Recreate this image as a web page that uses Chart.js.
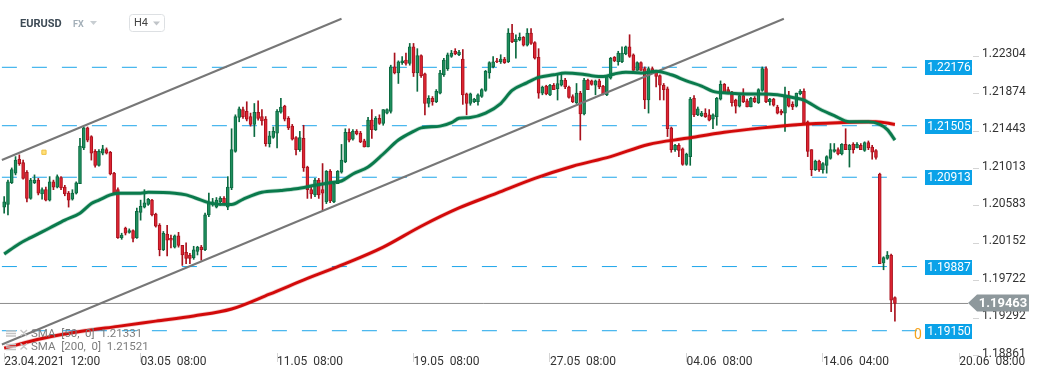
<!DOCTYPE html>
<html>
<head>
<meta charset="utf-8">
<script src="https://cdn.jsdelivr.net/npm/chart.js@4.4.0/dist/chart.umd.min.js"></script>
<style>
html,body{margin:0;padding:0;background:#fff;}
#wrap{width:1041px;height:380px;position:relative;}
</style>
</head>
<body>
<div id="wrap"><canvas id="chart"></canvas></div>
<script>
// EURUSD H4 candles, index 0 = 23.04.2021 12:00
var opens = [
1.2057,1.2060,1.2085,1.2096,1.2112,1.2108,1.2097,1.2067,1.2085,1.2088,
1.2072,1.2077,1.2065,1.2086,1.2080,1.2091,1.2080,1.2073,1.2066,1.2073,
1.2084,1.2125,1.2148,1.2138,1.2121,1.2105,1.2119,1.2123,1.2120,1.2096,
1.2077,1.2022,1.2033,1.2028,1.2030,1.2022,1.2051,1.2057,1.2060,1.2065,
1.2049,1.2036,1.2008,1.2026,1.2021,1.2011,1.2024,1.2013,1.2005,1.2002,
1.1999,1.2006,1.2011,1.2008,1.2048,1.2060,1.2057,1.2063,1.2067,1.2057,
1.2079,1.2121,1.2160,1.2169,1.2167,1.2161,1.2152,1.2166,1.2161,1.2158,
1.2130,1.2137,1.2142,1.2166,1.2173,1.2159,1.2150,1.2137,1.2123,1.2136,
1.2103,1.2077,1.2071,1.2088,1.2077,1.2063,1.2098,1.2063,1.2084,1.2097,
1.2109,1.2143,1.2135,1.2144,1.2142,1.2133,1.2126,1.2157,1.2146,1.2159,
1.2153,1.2165,1.2167,1.2218,1.2211,1.2223,1.2226,1.2222,1.2241,1.2211,
1.2231,1.2210,1.2176,1.2182,1.2178,1.2188,1.2209,1.2216,1.2230,1.2236,
1.2232,1.2227,1.2187,1.2176,1.2178,1.2178,1.2184,1.2191,1.2211,1.2218,
1.2225,1.2224,1.2227,1.2224,1.2257,1.2247,1.2249,1.2252,1.2243,1.2257,
1.2246,1.2229,1.2188,1.2196,1.2186,1.2197,1.2193,1.2197,1.2203,1.2195,
1.2184,1.2177,1.2188,1.2164,1.2203,1.2202,1.2197,1.2202,1.2196,1.2186,
1.2205,1.2229,1.2224,1.2224,1.2233,1.2241,1.2232,1.2214,1.2223,1.2216,
1.2180,1.2216,1.2213,1.2208,1.2197,1.2193,1.2148,1.2123,1.2128,1.2124,
1.2106,1.2115,1.2182,1.2163,1.2162,1.2165,1.2163,1.2158,1.2161,1.2181,
1.2198,1.2192,1.2188,1.2180,1.2173,1.2185,1.2179,1.2172,1.2182,1.2177,
1.2191,1.2216,1.2178,1.2181,1.2172,1.2167,1.2165,1.2185,1.2175,1.2173,
1.2187,1.2190,1.2155,1.2123,1.2100,1.2110,1.2100,1.2105,1.2113,1.2121,
1.2123,1.2118,1.2129,1.2123,1.2129,1.2125,1.2128,1.2122,1.2131,1.2126,
1.2122,1.2095,1.1993,1.1998,1.2002,1.1953];
var highs = [
1.2069,1.2088,1.2102,1.2115,1.2117,1.2111,1.2099,1.2090,1.2094,1.2090,
1.2079,1.2080,1.2092,1.2088,1.2094,1.2092,1.2082,1.2075,1.2077,1.2086,
1.2136,1.2149,1.2149,1.2139,1.2123,1.2123,1.2128,1.2125,1.2121,1.2097,
1.2079,1.2027,1.2034,1.2032,1.2031,1.2056,1.2065,1.2077,1.2067,1.2066,
1.2050,1.2038,1.2029,1.2036,1.2025,1.2025,1.2028,1.2013,1.2016,1.2004,
1.2012,1.2012,1.2013,1.2050,1.2073,1.2067,1.2068,1.2069,1.2069,1.2092,
1.2147,1.2163,1.2172,1.2172,1.2178,1.2165,1.2176,1.2179,1.2169,1.2161,
1.2144,1.2149,1.2169,1.2182,1.2174,1.2161,1.2152,1.2138,1.2144,1.2151,
1.2104,1.2080,1.2090,1.2090,1.2107,1.2099,1.2100,1.2086,1.2099,1.2129,
1.2147,1.2147,1.2146,1.2146,1.2144,1.2135,1.2160,1.2169,1.2161,1.2163,
1.2169,1.2170,1.2220,1.2234,1.2225,1.2230,1.2234,1.2245,1.2245,1.2239,
1.2232,1.2211,1.2185,1.2184,1.2192,1.2214,1.2228,1.2234,1.2237,1.2239,
1.2237,1.2238,1.2188,1.2188,1.2182,1.2187,1.2193,1.2214,1.2224,1.2230,
1.2228,1.2232,1.2229,1.2262,1.2267,1.2255,1.2257,1.2253,1.2262,1.2262,
1.2247,1.2239,1.2196,1.2197,1.2198,1.2199,1.2210,1.2211,1.2205,1.2196,
1.2186,1.2199,1.2190,1.2205,1.2204,1.2203,1.2203,1.2204,1.2197,1.2208,
1.2229,1.2230,1.2236,1.2241,1.2242,1.2255,1.2233,1.2224,1.2224,1.2218,
1.2218,1.2218,1.2214,1.2209,1.2199,1.2195,1.2149,1.2129,1.2130,1.2125,
1.2119,1.2183,1.2185,1.2172,1.2167,1.2170,1.2169,1.2164,1.2183,1.2202,
1.2199,1.2195,1.2190,1.2181,1.2186,1.2193,1.2181,1.2183,1.2184,1.2193,
1.2218,1.2218,1.2182,1.2182,1.2174,1.2169,1.2195,1.2190,1.2178,1.2188,
1.2192,1.2193,1.2156,1.2123,1.2111,1.2111,1.2108,1.2116,1.2130,1.2130,
1.2125,1.2130,1.2147,1.2129,1.2131,1.2131,1.2130,1.2132,1.2133,1.2128,
1.2123,1.2096,1.2000,1.2006,1.2003,1.1954];
var lows = [
1.2050,1.2048,1.2084,1.2094,1.2105,1.2089,1.2063,1.2066,1.2084,1.2071,
1.2066,1.2064,1.2064,1.2077,1.2079,1.2077,1.2070,1.2057,1.2065,1.2072,
1.2084,1.2123,1.2132,1.2111,1.2103,1.2104,1.2117,1.2118,1.2094,1.2073,
1.2021,1.2020,1.2025,1.2027,1.2017,1.2021,1.2042,1.2056,1.2059,1.2047,
1.2034,1.2001,1.2007,1.2001,1.2010,1.2010,1.2011,1.1990,1.1992,1.1992,
1.1997,1.2002,1.1996,1.2007,1.2046,1.2058,1.2056,1.2059,1.2060,1.2054,
1.2077,1.2120,1.2155,1.2159,1.2156,1.2150,1.2138,1.2157,1.2151,1.2127,
1.2126,1.2136,1.2125,1.2165,1.2156,1.2146,1.2134,1.2117,1.2121,1.2098,
1.2067,1.2067,1.2069,1.2067,1.2054,1.2061,1.2062,1.2062,1.2084,1.2096,
1.2108,1.2132,1.2134,1.2140,1.2131,1.2126,1.2126,1.2136,1.2145,1.2152,
1.2151,1.2164,1.2165,1.2210,1.2199,1.2221,1.2220,1.2220,1.2207,1.2190,
1.2206,1.2163,1.2172,1.2174,1.2177,1.2187,1.2207,1.2214,1.2229,1.2232,
1.2231,1.2175,1.2163,1.2174,1.2177,1.2174,1.2183,1.2190,1.2205,1.2217,
1.2223,1.2222,1.2222,1.2223,1.2246,1.2228,1.2248,1.2242,1.2242,1.2244,
1.2227,1.2182,1.2186,1.2186,1.2185,1.2192,1.2180,1.2196,1.2193,1.2182,
1.2177,1.2176,1.2134,1.2163,1.2192,1.2197,1.2186,1.2193,1.2186,1.2185,
1.2204,1.2224,1.2220,1.2223,1.2232,1.2229,1.2214,1.2214,1.2214,1.2170,
1.2165,1.2211,1.2195,1.2180,1.2180,1.2138,1.2120,1.2121,1.2115,1.2105,
1.2105,1.2105,1.2161,1.2162,1.2161,1.2160,1.2156,1.2147,1.2151,1.2180,
1.2188,1.2187,1.2173,1.2165,1.2172,1.2177,1.2172,1.2172,1.2177,1.2176,
1.2190,1.2177,1.2174,1.2173,1.2164,1.2163,1.2144,1.2172,1.2169,1.2172,
1.2186,1.2152,1.2115,1.2093,1.2099,1.2098,1.2096,1.2096,1.2112,1.2120,
1.2117,1.2117,1.2123,1.2103,1.2119,1.2125,1.2123,1.2121,1.2123,1.2112,
1.2112,1.1992,1.1985,1.1997,1.1937,1.1926];
var closes = [
1.2063,1.2086,1.2100,1.2111,1.2107,1.2090,1.2067,1.2088,1.2088,1.2073,
1.2077,1.2065,1.2086,1.2080,1.2092,1.2079,1.2072,1.2065,1.2073,1.2085,
1.2127,1.2148,1.2134,1.2119,1.2105,1.2121,1.2124,1.2119,1.2095,1.2073,
1.2022,1.2025,1.2027,1.2030,1.2021,1.2052,1.2058,1.2062,1.2066,1.2048,
1.2035,1.2008,1.2027,1.2019,1.2019,1.2024,1.2013,1.2002,1.1998,1.1998,
1.2008,1.2011,1.2008,1.2048,1.2063,1.2063,1.2065,1.2067,1.2061,1.2080,
1.2123,1.2161,1.2170,1.2161,1.2158,1.2152,1.2166,1.2159,1.2156,1.2130,
1.2139,1.2144,1.2167,1.2172,1.2158,1.2148,1.2135,1.2123,1.2137,1.2102,
1.2077,1.2072,1.2088,1.2071,1.2073,1.2098,1.2064,1.2084,1.2098,1.2111,
1.2143,1.2134,1.2144,1.2141,1.2132,1.2126,1.2157,1.2146,1.2159,1.2153,
1.2169,1.2169,1.2218,1.2211,1.2224,1.2225,1.2222,1.2241,1.2211,1.2231,
1.2208,1.2176,1.2182,1.2178,1.2190,1.2211,1.2226,1.2232,1.2234,1.2233,
1.2235,1.2186,1.2176,1.2187,1.2181,1.2186,1.2192,1.2213,1.2223,1.2224,
1.2224,1.2227,1.2223,1.2257,1.2247,1.2250,1.2252,1.2243,1.2257,1.2245,
1.2228,1.2188,1.2195,1.2187,1.2197,1.2192,1.2199,1.2203,1.2195,1.2183,
1.2178,1.2188,1.2164,1.2203,1.2192,1.2198,1.2202,1.2195,1.2187,1.2207,
1.2228,1.2225,1.2234,1.2234,1.2241,1.2230,1.2214,1.2223,1.2214,1.2180,
1.2216,1.2213,1.2207,1.2197,1.2192,1.2147,1.2123,1.2128,1.2122,1.2106,
1.2118,1.2181,1.2163,1.2170,1.2165,1.2161,1.2157,1.2163,1.2182,1.2198,
1.2188,1.2188,1.2177,1.2173,1.2185,1.2178,1.2172,1.2182,1.2178,1.2192,
1.2216,1.2178,1.2181,1.2174,1.2165,1.2165,1.2185,1.2173,1.2172,1.2188,
1.2190,1.2153,1.2121,1.2100,1.2110,1.2100,1.2107,1.2115,1.2123,1.2123,
1.2118,1.2129,1.2123,1.2128,1.2123,1.2129,1.2123,1.2131,1.2125,1.2120,
1.2114,1.1992,1.1999,1.2002,1.1950,1.19463];

// moving averages (candle index, value)
var sma50Idx = [0,4,7,12,16,20,23,25,28,30,36,38,45,48,52,55,60,63,68,73,77,82,86,89,92,96,100,104,108,110,
  115,118,120,123,127,131,134,138,141,145,148,152,155,158,161,164,168,172,176,180,184,187,191,196,200,204,208,211,215,219,
  223,228,231,233,235];
var sma50 = [1.2003,1.2015,1.2022,1.2033,1.2042,1.2050,1.2061,1.2065,1.2071,1.2073,1.2073,1.2074,1.2073,1.2071,1.2065,
  1.2061,1.2060,1.2066,1.2074,1.2076,1.2078,1.2082,1.2085,1.2087,1.2095,1.2103,1.2118,1.2134,1.2144,1.2148,
  1.2150,1.2154,1.2159,1.2160,1.2165,1.2176,1.2191,1.2200,1.2206,1.2209,1.2211,1.2210,1.2208,1.2207,1.2210,
  1.2212,1.2211,1.2213,1.2209,1.2202,1.2196,1.2190,1.2188,1.2187,1.2187,1.2186,1.2183,1.2180,1.2170,1.2162,
  1.2155,1.2155,1.2152,1.2146,1.2134];
var sma200Idx = [0,10,20,30,40,50,60,70,80,90,100,110,120,130,140,150,160,170,180,190,200,210,220,230,235];
var sma200 = [1.1895,1.1906,1.1914,1.1920,1.1926,1.1932,1.1940,1.1957,1.1975,1.1992,1.2011,1.2035,1.2056,1.2073,
  1.2090,1.2104,1.2115,1.2129,1.2136,1.2143,1.2148,1.2152,1.2154,1.2155,1.2152];

var levels = [1.22176, 1.21505, 1.20913, 1.19887, 1.19150];
var lastPrice = 1.19463;
var yTicks = [1.22304, 1.21874, 1.21443, 1.21013, 1.20583, 1.20152, 1.19722, 1.19292, 1.18861];
var xTickIdx = [0, 36, 72, 108, 144, 180, 216, 252];
var xTickLabels = ['23.04.2021  12:00', '03.05  08:00', '11.05  08:00', '19.05  08:00',
  '27.05  08:00', '04.06  08:00', '14.06  04:00', '20.06  08:00'];
// trend channel end points (candle index, price)
var upperChannel = [[-0.6, 1.21111], [89, 1.22734]];
var lowerChannel = [[-0.6, 1.18992], [205.7, 1.22734]];
var marker = [10.5, 1.2120];
var legendLabels = ['SMA  [50,  0]  1.21331', 'SMA  [200,  0]  1.21521'];

var UP = '#1f8e5e', UP_EDGE = '#0b6a40', DN = '#dd2532', DN_EDGE = '#a9111d';

function isUp(i) { return closes[i] >= opens[i]; }
function pts(idx, vals) { return idx.map(function (x, k) { return {x: x, y: vals[k]}; }); }
function seg(p) { return p.map(function (a) { return {x: a[0], y: a[1]}; }); }

var datasets = [];

// moving averages on top
datasets.push({type: 'line', data: pts(sma50Idx, sma50), borderColor: '#0a7a4c', borderWidth: 3,
  pointRadius: 0, cubicInterpolationMode: 'monotone', order: 1});
datasets.push({type: 'line', data: pts(sma50Idx, sma50), borderColor: 'rgba(10,122,76,0.25)', borderWidth: 4.5,
  pointRadius: 0, cubicInterpolationMode: 'monotone', order: 2});
datasets.push({type: 'line', data: pts(sma200Idx, sma200), borderColor: '#d20a0a', borderWidth: 3,
  pointRadius: 0, cubicInterpolationMode: 'monotone', order: 1});
datasets.push({type: 'line', data: pts(sma200Idx, sma200), borderColor: 'rgba(210,10,10,0.22)', borderWidth: 4.5,
  pointRadius: 0, cubicInterpolationMode: 'monotone', order: 2});

datasets.push({type: 'scatter', data: [{x: marker[0], y: marker[1]}], pointStyle: 'rect', pointRadius: 3,
  backgroundColor: '#ffe07a', borderColor: '#efc245', borderWidth: 1, order: 0});

// channel
[upperChannel, lowerChannel].forEach(function (c) {
  datasets.push({type: 'line', data: seg(c), borderColor: '#777', borderWidth: 2, pointRadius: 0, order: 3});
});

// candles
datasets.push({type: 'bar', data: opens.map(function (o, i) { return {x: i, y: [o, closes[i]]}; }),
  backgroundColor: function (c) { return isUp(c.dataIndex) ? UP : DN; },
  borderColor: function (c) { return isUp(c.dataIndex) ? UP_EDGE : DN_EDGE; },
  borderWidth: 1, borderSkipped: false, barThickness: 3, minBarLength: 1, grouped: false, order: 4});
datasets.push({type: 'bar', data: highs.map(function (h, i) { return {x: i, y: [lows[i], h]}; }),
  backgroundColor: function (c) { return isUp(c.dataIndex) ? UP_EDGE : DN_EDGE; },
  barThickness: 1, grouped: false, order: 5});

// price level lines
levels.forEach(function (l) {
  datasets.push({type: 'line', data: [{x: -0.6, y: l}, {x: 255, y: l}], borderColor: '#1ea6ea',
    borderWidth: 1, borderDash: [15, 15], pointRadius: 0, order: 7});
});
datasets.push({type: 'line', data: [{x: -1.2, y: lastPrice}, {x: 254.3, y: lastPrice}], borderColor: '#8c8c8c',
  borderWidth: 1, pointRadius: 0, order: 6});

var overlay = {
  id: 'overlay',
  afterDatasetsDraw: function (chart) {
    var ctx = chart.ctx, ys = chart.scales.y;
    ctx.save();
    ctx.textBaseline = 'middle';
    ctx.fillStyle = '#f5a21b';
    ctx.font = '14px Roboto';
    ctx.textAlign = 'left';
    ctx.fillText('0', 914, ys.getPixelForValue(levels[4]) + 5);
    levels.forEach(function (l) {
      var py = Math.round(ys.getPixelForValue(l));
      ctx.fillStyle = '#0aa2e8';
      ctx.fillRect(925, py - 7, 47, 15);
      ctx.fillStyle = '#fff';
      ctx.font = '12px Roboto';
      ctx.textAlign = 'center';
      ctx.fillText(l.toFixed(5), 949, py + 1);
    });
    ctx.restore();
  },
  afterDraw: function (chart) {
    var ctx = chart.ctx, ys = chart.scales.y;
    ctx.save();
    ctx.textBaseline = 'middle';
    // last price tag
    var py = Math.round(ys.getPixelForValue(lastPrice));
    ctx.fillStyle = '#8e989c';
    ctx.beginPath();
    ctx.moveTo(968, py);
    ctx.lineTo(977, py - 8.5);
    ctx.lineTo(1029, py - 8.5);
    ctx.lineTo(1029, py + 8.5);
    ctx.lineTo(977, py + 8.5);
    ctx.closePath();
    ctx.fill();
    ctx.fillStyle = '#fff';
    ctx.font = 'bold 13px Roboto';
    ctx.textAlign = 'center';
    ctx.fillText(lastPrice.toFixed(5), 1003, py + 1);

    // header
    ctx.textAlign = 'left';
    ctx.fillStyle = '#3d4a55';
    ctx.font = 'bold 11px Roboto';
    ctx.fillText('EURUSD', 20, 24);
    ctx.fillStyle = '#a3afb8';
    ctx.font = 'bold 9px Roboto';
    ctx.fillText('FX', 73, 24.5);
    ctx.fillStyle = '#c8ced2';
    ctx.beginPath(); ctx.moveTo(90, 21); ctx.lineTo(97, 21); ctx.lineTo(93.5, 25); ctx.fill();
    ctx.strokeStyle = '#dde0e3';
    ctx.lineWidth = 1;
    ctx.beginPath();
    ctx.roundRect(129.5, 14.5, 35, 17, 3);
    ctx.stroke();
    ctx.fillStyle = '#444';
    ctx.font = '11px Roboto';
    ctx.fillText('H4', 134, 23.5);
    ctx.fillStyle = '#c0c4c8';
    ctx.beginPath(); ctx.moveTo(153, 21.5); ctx.lineTo(160, 21.5); ctx.lineTo(156.5, 25.5); ctx.fill();

    // indicator legend
    ctx.font = '11.5px Roboto';
    legendLabels.forEach(function (t, k) {
      var cy = 334 + k * 13.5;
      ctx.strokeStyle = '#c4c4c4';
      ctx.lineWidth = 1.5;
      ctx.beginPath();
      for (var j = 0; j < 3; j++) { ctx.moveTo(6, cy - 3 + j * 2.5); ctx.lineTo(16, cy - 3 + j * 2.5); }
      ctx.moveTo(20.5, cy - 4); ctx.lineTo(27, cy + 2);
      ctx.moveTo(27, cy - 4); ctx.lineTo(20.5, cy + 2);
      ctx.stroke();
      ctx.fillStyle = '#7c7c7c';
      ctx.fillText(t, 31, cy);
    });
    ctx.restore();
  }
};

new Chart(document.getElementById('chart'), {
  type: 'bar',
  data: {datasets: datasets},
  plugins: [overlay],
  options: {
    responsive: true,
    maintainAspectRatio: false,
    animation: false,
    layout: {padding: 0, autoPadding: false},
    plugins: {legend: {display: false}, tooltip: {enabled: false}},
    scales: {
      x: {
        type: 'linear', min: -1.1, max: 255.6, offset: false,
        afterBuildTicks: function (s) { s.ticks = xTickIdx.map(function (v) { return {value: v}; }); },
        afterFit: function (s) { s.height = 27; s.paddingLeft = 0; s.paddingRight = 0; },
        ticks: {
          autoSkip: false, maxRotation: 0, minRotation: 0, align: 'start', padding: -7,
          color: '#333', font: {family: 'Roboto', size: 12},
          callback: function (v) { var k = xTickIdx.indexOf(v); return k < 0 ? '' : xTickLabels[k]; }
        },
        grid: {drawOnChartArea: false, drawTicks: true, tickLength: 9, color: '#d4d4d4', offset: false},
        border: {display: false}
      },
      y: {
        position: 'right', min: 1.18894, max: 1.22949,
        afterBuildTicks: function (s) { s.ticks = yTicks.map(function (v) { return {value: v}; }); },
        afterFit: function (s) { s.width = 68; s.paddingTop = 0; s.paddingBottom = 0; },
        ticks: {
          padding: 3, labelOffset: -2, color: '#333', font: {family: 'Roboto', size: 12},
          callback: function (v) { return v.toFixed(5); }
        },
        grid: {drawOnChartArea: false, drawTicks: true, tickLength: 6, color: '#d4d4d4'},
        border: {display: false}
      }
    }
  }
});
</script>
</body>
</html>
